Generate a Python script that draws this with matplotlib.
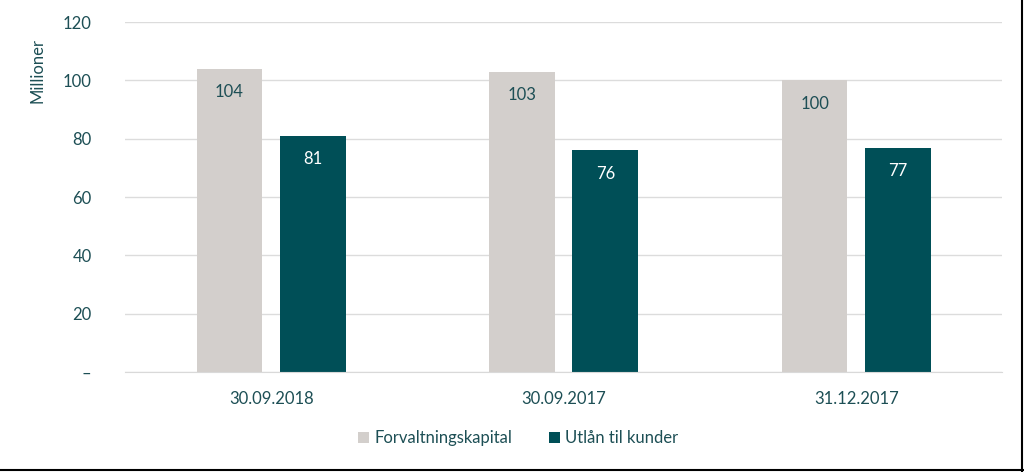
import matplotlib.pyplot as plt
from matplotlib.lines import Line2D
import numpy as np

plt.rcParams['font.family'] = ['Lato', 'DejaVu Sans']

categories = ["30.09.2018", "30.09.2017", "31.12.2017"]
forvaltning = [104, 103, 100]
utlan = [81, 76, 77]
series_names = ["Forvaltningskapital", "Utlån til kunder"]
yticks = [0, 20, 40, 60, 80, 100, 120]
ytick_labels = ["–", "20", "40", "60", "80", "100", "120"]

gray = "#d3cfcc"
teal = "#004f57"
text_col = "#1d4f55"

fig = plt.figure(figsize=(10.24, 4.72), dpi=100)
ax = fig.add_axes([0.122, 0.212, 0.857, 0.741])

x = np.arange(len(categories))
w = 0.225
off = 0.1425
b1 = ax.bar(x - off, forvaltning, w, color=gray, label=series_names[0])
b2 = ax.bar(x + off, utlan, w, color=teal, label=series_names[1])

for rect, v in zip(b1, forvaltning):
    ax.annotate(str(v), (rect.get_x() + rect.get_width() / 2, v),
                xytext=(0, -17), textcoords="offset points",
                ha="center", va="center", fontsize=12, color=text_col)
for rect, v in zip(b2, utlan):
    ax.annotate(str(v), (rect.get_x() + rect.get_width() / 2, v),
                xytext=(0, -17), textcoords="offset points",
                ha="center", va="center", fontsize=12, color="white")

ax.set_xlim(-0.5, len(categories) - 0.5)
ax.set_ylim(0, 120)
ax.set_yticks(yticks)
ax.set_yticklabels(ytick_labels)
ax.set_xticks(x)
ax.set_xticklabels(categories)
ax.tick_params(axis="both", length=0, labelsize=12, colors=text_col)
ax.tick_params(axis="y", pad=24)
ax.tick_params(axis="x", pad=14)
ax.grid(axis="y", color="#dcdcdc", linewidth=1)
ax.set_axisbelow(True)
for s in ["top", "right", "left"]:
    ax.spines[s].set_visible(False)
ax.spines["bottom"].set_color("#d9d9d9")

fig.text(0.037, 0.85, "Millioner", rotation=90, ha="center", va="center",
         fontsize=12, color=text_col)

ax.legend(loc="center", bbox_to_anchor=(0.448, -0.19), ncol=2,
          frameon=False, fontsize=12, labelcolor=text_col,
          handlelength=0.7, handleheight=0.7, handletextpad=0.3,
          columnspacing=2.2)

fig.add_artist(Line2D([0, 1], [0.004, 0.004], color="black", lw=1.5,
                      transform=fig.transFigure))
fig.add_artist(Line2D([0.998, 0.998], [0, 1], color="black", lw=1.5,
                      transform=fig.transFigure))

fig.savefig("out.png", dpi=100)
